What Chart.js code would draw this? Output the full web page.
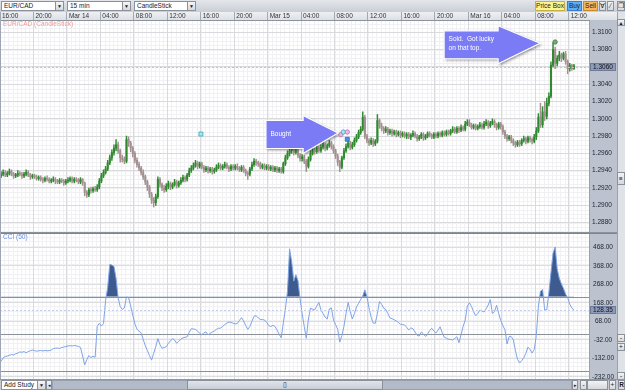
<!DOCTYPE html>
<html><head><meta charset="utf-8"><title>EUR/CAD 15 min</title>
<script src="https://cdn.jsdelivr.net/npm/chart.js@4.4.1/dist/chart.umd.min.js"></script>
<style>
*{box-sizing:border-box}
html,body{margin:0;padding:0;width:625px;height:390px;overflow:hidden;background:#c8cdd5;font-family:"Liberation Sans",Arial,sans-serif;font-size:6.5px;color:#1a1a1a}
.a{position:absolute}
.dd{position:absolute;top:1px;height:10px;background:#fff;border:1px solid #8b919b;line-height:8px;padding-left:2px;white-space:nowrap}
.dd i{position:absolute;right:0;top:0;width:8px;height:8px;border-left:1px solid #8b919b;background:linear-gradient(#f6f6f6,#d6d8dc);font-style:normal;font-size:5px;line-height:8px;text-align:center}
.btn{position:absolute;height:10px;border:1px solid #8b919b;line-height:8px;text-align:center;white-space:nowrap;background:linear-gradient(#f2f3f5,#d5d8dd)}
</style></head><body>
<div class="a" style="left:0;top:0;width:625px;height:12px;background:linear-gradient(#e3e6ea,#c9ced6)"></div>
<div class="dd" style="left:1px;width:63px">EUR/CAD<i>▼</i></div>
<div class="dd" style="left:67px;width:64px">15 min<i>▼</i></div>
<div class="dd" style="left:134px;width:62px">CandleStick<i>▼</i></div>
<div class="btn" style="left:535px;top:1px;width:30px;background:#fff38a;border-color:#c2b04a">Price Box</div>
<div class="btn" style="left:567px;top:1px;width:15px;background:#5eaef2;border-color:#3a7ec4">Buy</div>
<div class="btn" style="left:583px;top:1px;width:15px;background:#f8b659;border-color:#c68a34">Sell</div>
<div class="btn" style="left:599px;top:1px;width:7px">∀</div>
<div class="btn" style="left:607px;top:1px;width:7px">⁄</div>
<div class="btn" style="left:617px;top:1px;width:8px">❐</div>
<div class="a" style="left:0;top:12px;width:617px;height:8px;background:linear-gradient(#eef0f3,#dcdfe4)"></div>
<div class="a" style="left:589px;top:20px;width:28px;height:359px;background:#bcc3cf;border-left:1px solid #9aa2b0"></div>
<canvas id="price" class="a" style="left:0;top:12px" width="617" height="221"></canvas>
<canvas id="cci" class="a" style="left:0;top:233px" width="617" height="146"></canvas>
<div class="a" style="left:0;top:20px;width:1px;height:359px;background:#9ea6b6"></div>
<div class="a" style="left:617px;top:12px;width:8px;height:367px;background:#dfe2e7;border-left:1px solid #9aa2ae"></div>
<div class="btn" style="left:617px;top:19px;width:8px;height:7px;line-height:6px;font-size:5px">▲</div>
<div class="btn" style="left:617px;top:172px;width:8px;height:13px;line-height:11px">≡</div>
<div class="btn" style="left:617px;top:334px;width:8px;height:8px;line-height:6px">-</div>
<div class="btn" style="left:617px;top:343px;width:8px;height:8px;line-height:6px">+</div>
<div class="btn" style="left:617px;top:372px;width:8px;height:8px;line-height:6px">-</div>
<div class="a" style="left:0;top:379px;width:625px;height:11px;background:#c6cbd3;border-top:1px solid #8f96a2"></div>
<div class="dd" style="left:1px;top:380px;width:45px;height:10px">Add Study<i>▼</i></div>
<div class="btn" style="left:46px;top:380px;width:6px;font-size:5px">◂</div>
<div class="a" style="left:52px;top:380px;width:520px;height:10px;background:#b3bbc8;border:1px solid #97a0ae"></div>
<div class="btn" style="left:187px;top:380px;width:196px;background:linear-gradient(#e1e4e9,#c9ced6)">▯</div>
<div class="btn" style="left:572px;top:380px;width:6px;font-size:5px">▸</div>
<div class="btn" style="left:580px;top:380px;width:7px">-</div>
<div class="btn" style="left:587px;top:380px;width:21px"></div>
<div class="btn" style="left:609px;top:380px;width:7px">+</div>
<div class="btn" style="left:618px;top:380px;width:7px;font-weight:bold">R</div>
<script>
// ---- data (15-minute EUR/CAD candles, Mar 13 16:00 onward) ----
const timeLabels = ["16:00","20:00","Mar 14","04:00","08:00","12:00","16:00","20:00","Mar 15","04:00","08:00","12:00","16:00","20:00","Mar 16","04:00","08:00","12:00"];
const priceTicks = [1.2880,1.2900,1.2920,1.2940,1.2960,1.2980,1.3000,1.3020,1.3040,1.3060,1.3080,1.3100];
const cciTicks = [468,368,268,168,68,-32,-132,-232];
const cciLevels = [200,0,-200];
const lastPrice = 1.3060;
const lastCci = 128.35;

const openP = [
1.2934,1.2936,1.2938,1.2935,1.2937,1.2939,1.2936,1.2934,1.2935,1.2937,1.2936,1.2934,1.2936,1.2938,1.2935,1.2933,
1.2934,1.2933,1.2931,1.2932,1.2930,1.2929,1.2931,1.2930,1.2928,1.2929,1.2930,1.2928,1.2927,1.2929,1.2928,1.2926,
1.2928,1.2929,1.2931,1.2928,1.2930,1.2929,1.2927,1.2930,1.2926,1.2915,1.2912,1.2918,1.2917,1.2919,1.2918,1.2921,
1.2928,1.2934,1.2938,1.2942,1.2949,1.2955,1.2961,1.2966,1.2970,1.2963,1.2955,1.2953,1.2951,1.2976,1.2972,1.2966,
1.2960,1.2952,1.2947,1.2943,1.2938,1.2933,1.2927,1.2921,1.2913,1.2906,1.2903,1.2910,1.2930,1.2924,1.2920,1.2918,
1.2922,1.2925,1.2921,1.2924,1.2927,1.2923,1.2926,1.2929,1.2932,1.2930,1.2935,1.2940,1.2943,1.2946,1.2949,1.2945,
1.2948,1.2944,1.2941,1.2943,1.2940,1.2942,1.2939,1.2941,1.2944,1.2946,1.2943,1.2945,1.2947,1.2944,1.2942,1.2945,
1.2943,1.2945,1.2943,1.2941,1.2944,1.2940,1.2937,1.2936,1.2942,1.2947,1.2951,1.2949,1.2948,1.2944,1.2946,1.2943,
1.2945,1.2942,1.2944,1.2941,1.2943,1.2940,1.2942,1.2939,1.2948,1.2955,1.2960,1.2963,1.2966,1.2961,1.2964,1.2958,
1.2954,1.2956,1.2951,1.2945,1.2953,1.2960,1.2964,1.2962,1.2966,1.2963,1.2967,1.2970,1.2966,1.2969,1.2972,1.2968,
1.2963,1.2957,1.2950,1.2944,1.2955,1.2963,1.2968,1.2972,1.2967,1.2970,1.2975,1.2979,1.2984,1.2988,1.3002,1.2980,
1.2975,1.2972,1.2975,1.2971,1.2974,1.2998,1.2992,1.2989,1.2986,1.2988,1.2984,1.2986,1.2983,1.2985,1.2982,1.2984,
1.2981,1.2983,1.2980,1.2982,1.2979,1.2981,1.2983,1.2980,1.2977,1.2979,1.2982,1.2978,1.2980,1.2983,1.2981,1.2979,
1.2982,1.2980,1.2983,1.2981,1.2984,1.2982,1.2985,1.2983,1.2986,1.2988,1.2985,1.2989,1.2987,1.2990,1.2988,1.2994,
1.2996,1.2993,1.2990,1.2992,1.2989,1.2991,1.2993,1.2990,1.2994,1.2996,1.2992,1.2995,1.2997,1.2993,1.2990,1.2994,
1.2991,1.2985,1.2980,1.2977,1.2979,1.2975,1.2972,1.2970,1.2973,1.2971,1.2975,1.2977,1.2974,1.2978,1.2976,1.2974,
1.2979,1.2986,1.3002,1.2993,1.3008,1.3003,1.3018,1.3026,1.3062,1.3080,1.3064,1.3070,1.3074,1.3070,1.3075,1.3066,
1.3058,1.3062,1.3058];
const highP = [
1.2939,1.2941,1.2940,1.2939,1.2942,1.2941,1.2938,1.2937,1.2940,1.2939,1.2938,1.2938,1.2941,1.2940,1.2937,1.2936,
1.2936,1.2935,1.2934,1.2934,1.2932,1.2933,1.2934,1.2932,1.2931,1.2933,1.2932,1.2930,1.2931,1.2931,1.2930,1.2930,
1.2932,1.2933,1.2933,1.2932,1.2932,1.2931,1.2932,1.2931,1.2927,1.2917,1.2920,1.2921,1.2921,1.2922,1.2924,1.2931,
1.2937,1.2941,1.2945,1.2952,1.2958,1.2964,1.2970,1.2976,1.2973,1.2965,1.2958,1.2956,1.2980,1.2979,1.2974,1.2968,
1.2962,1.2955,1.2950,1.2945,1.2941,1.2935,1.2929,1.2923,1.2915,1.2909,1.2913,1.2933,1.2932,1.2926,1.2923,1.2925,
1.2928,1.2927,1.2926,1.2930,1.2929,1.2928,1.2932,1.2935,1.2934,1.2937,1.2943,1.2946,1.2949,1.2952,1.2951,1.2950,
1.2950,1.2946,1.2945,1.2945,1.2944,1.2944,1.2943,1.2947,1.2949,1.2948,1.2947,1.2950,1.2949,1.2946,1.2947,1.2947,
1.2947,1.2948,1.2945,1.2946,1.2946,1.2942,1.2939,1.2944,1.2950,1.2954,1.2953,1.2951,1.2950,1.2948,1.2948,1.2947,
1.2947,1.2946,1.2946,1.2945,1.2945,1.2944,1.2944,1.2950,1.2958,1.2963,1.2966,1.2970,1.2968,1.2967,1.2966,1.2960,
1.2959,1.2958,1.2953,1.2956,1.2963,1.2967,1.2966,1.2969,1.2968,1.2970,1.2973,1.2972,1.2971,1.2975,1.2974,1.2970,
1.2965,1.2959,1.2952,1.2957,1.2966,1.2971,1.2976,1.2974,1.2973,1.2978,1.2982,1.2987,1.2991,1.3008,1.3004,1.2982,
1.2977,1.2978,1.2977,1.2976,1.3005,1.3000,1.2995,1.2991,1.2991,1.2990,1.2988,1.2988,1.2987,1.2987,1.2986,1.2986,
1.2985,1.2985,1.2984,1.2984,1.2983,1.2986,1.2985,1.2982,1.2981,1.2984,1.2984,1.2982,1.2985,1.2985,1.2983,1.2984,
1.2984,1.2985,1.2985,1.2986,1.2986,1.2987,1.2987,1.2988,1.2991,1.2990,1.2991,1.2991,1.2993,1.2992,1.2997,1.2999,
1.2999,1.2995,1.2994,1.2994,1.2993,1.2996,1.2995,1.2997,1.2999,1.2998,1.2997,1.3000,1.2999,1.2995,1.2996,1.2996,
1.2993,1.2987,1.2982,1.2981,1.2981,1.2977,1.2974,1.2975,1.2975,1.2977,1.2980,1.2979,1.2980,1.2980,1.2978,1.2982,
1.2990,1.3006,1.3018,1.3014,1.3020,1.3024,1.3030,1.3066,1.3088,1.3083,1.3073,1.3078,1.3076,1.3077,1.3078,1.3068,
1.3064,1.3063,1.3063];
const lowP = [
1.2932,1.2934,1.2933,1.2933,1.2935,1.2934,1.2931,1.2932,1.2933,1.2934,1.2931,1.2932,1.2934,1.2933,1.2930,1.2931,
1.2931,1.2929,1.2929,1.2928,1.2926,1.2927,1.2928,1.2926,1.2926,1.2927,1.2925,1.2925,1.2925,1.2926,1.2923,1.2924,
1.2926,1.2927,1.2926,1.2926,1.2927,1.2925,1.2925,1.2923,1.2911,1.2909,1.2910,1.2914,1.2915,1.2916,1.2916,1.2919,
1.2926,1.2932,1.2936,1.2940,1.2947,1.2952,1.2958,1.2963,1.2960,1.2950,1.2950,1.2948,1.2949,1.2968,1.2962,1.2956,
1.2949,1.2944,1.2940,1.2935,1.2930,1.2924,1.2917,1.2909,1.2902,1.2898,1.2900,1.2908,1.2921,1.2917,1.2915,1.2916,
1.2919,1.2918,1.2919,1.2922,1.2920,1.2921,1.2924,1.2927,1.2927,1.2928,1.2933,1.2938,1.2941,1.2944,1.2942,1.2943,
1.2942,1.2938,1.2939,1.2937,1.2938,1.2936,1.2937,1.2939,1.2942,1.2941,1.2941,1.2943,1.2942,1.2939,1.2940,1.2941,
1.2941,1.2941,1.2939,1.2939,1.2938,1.2934,1.2930,1.2934,1.2940,1.2945,1.2946,1.2945,1.2942,1.2942,1.2941,1.2941,
1.2940,1.2940,1.2939,1.2939,1.2938,1.2938,1.2937,1.2937,1.2946,1.2953,1.2957,1.2960,1.2958,1.2959,1.2955,1.2951,
1.2951,1.2948,1.2939,1.2943,1.2951,1.2958,1.2959,1.2960,1.2961,1.2961,1.2965,1.2963,1.2964,1.2967,1.2965,1.2960,
1.2954,1.2946,1.2939,1.2942,1.2953,1.2961,1.2966,1.2964,1.2965,1.2968,1.2973,1.2977,1.2982,1.2986,1.2977,1.2972,
1.2969,1.2970,1.2968,1.2969,1.2972,1.2989,1.2986,1.2983,1.2984,1.2981,1.2982,1.2980,1.2981,1.2979,1.2980,1.2978,
1.2979,1.2978,1.2977,1.2977,1.2976,1.2979,1.2978,1.2974,1.2975,1.2977,1.2975,1.2976,1.2978,1.2979,1.2977,1.2977,
1.2978,1.2978,1.2979,1.2979,1.2980,1.2980,1.2981,1.2981,1.2984,1.2983,1.2983,1.2984,1.2985,1.2986,1.2986,1.2992,
1.2991,1.2988,1.2988,1.2987,1.2987,1.2989,1.2988,1.2988,1.2992,1.2989,1.2990,1.2993,1.2990,1.2987,1.2988,1.2988,
1.2982,1.2977,1.2974,1.2975,1.2972,1.2969,1.2967,1.2968,1.2968,1.2969,1.2973,1.2971,1.2972,1.2973,1.2971,1.2972,
1.2976,1.2984,1.2990,1.2990,1.2998,1.3000,1.3015,1.3024,1.3060,1.3058,1.3061,1.3067,1.3066,1.3068,1.3063,1.3052,
1.3055,1.3056,1.3057];
const closeP = [
1.2936,1.2938,1.2935,1.2937,1.2939,1.2936,1.2934,1.2935,1.2937,1.2936,1.2934,1.2936,1.2938,1.2935,1.2933,1.2934,
1.2933,1.2931,1.2932,1.2930,1.2929,1.2931,1.2930,1.2928,1.2929,1.2930,1.2928,1.2927,1.2929,1.2928,1.2926,1.2928,
1.2929,1.2931,1.2928,1.2930,1.2929,1.2927,1.2930,1.2926,1.2915,1.2912,1.2918,1.2917,1.2919,1.2918,1.2921,1.2928,
1.2934,1.2938,1.2942,1.2949,1.2955,1.2961,1.2966,1.2970,1.2963,1.2955,1.2953,1.2951,1.2976,1.2972,1.2966,1.2960,
1.2952,1.2947,1.2943,1.2938,1.2933,1.2927,1.2921,1.2913,1.2906,1.2903,1.2910,1.2930,1.2924,1.2920,1.2918,1.2922,
1.2925,1.2921,1.2924,1.2927,1.2923,1.2926,1.2929,1.2932,1.2930,1.2935,1.2940,1.2943,1.2946,1.2949,1.2945,1.2948,
1.2944,1.2941,1.2943,1.2940,1.2942,1.2939,1.2941,1.2944,1.2946,1.2943,1.2945,1.2947,1.2944,1.2942,1.2945,1.2943,
1.2945,1.2943,1.2941,1.2944,1.2940,1.2937,1.2936,1.2942,1.2947,1.2951,1.2949,1.2948,1.2944,1.2946,1.2943,1.2945,
1.2942,1.2944,1.2941,1.2943,1.2940,1.2942,1.2939,1.2948,1.2955,1.2960,1.2963,1.2966,1.2961,1.2964,1.2958,1.2954,
1.2956,1.2951,1.2945,1.2953,1.2960,1.2964,1.2962,1.2966,1.2963,1.2967,1.2970,1.2966,1.2969,1.2972,1.2968,1.2963,
1.2957,1.2950,1.2944,1.2955,1.2963,1.2968,1.2972,1.2967,1.2970,1.2975,1.2979,1.2984,1.2988,1.3002,1.2980,1.2975,
1.2972,1.2975,1.2971,1.2974,1.2998,1.2992,1.2989,1.2986,1.2988,1.2984,1.2986,1.2983,1.2985,1.2982,1.2984,1.2981,
1.2983,1.2980,1.2982,1.2979,1.2981,1.2983,1.2980,1.2977,1.2979,1.2982,1.2978,1.2980,1.2983,1.2981,1.2979,1.2982,
1.2980,1.2983,1.2981,1.2984,1.2982,1.2985,1.2983,1.2986,1.2988,1.2985,1.2989,1.2987,1.2990,1.2988,1.2994,1.2996,
1.2993,1.2990,1.2992,1.2989,1.2991,1.2993,1.2990,1.2994,1.2996,1.2992,1.2995,1.2997,1.2993,1.2990,1.2994,1.2991,
1.2985,1.2980,1.2977,1.2979,1.2975,1.2972,1.2970,1.2973,1.2971,1.2975,1.2977,1.2974,1.2978,1.2976,1.2974,1.2979,
1.2986,1.3002,1.2993,1.3008,1.3003,1.3018,1.3026,1.3062,1.3080,1.3064,1.3070,1.3074,1.3070,1.3075,1.3066,1.3058,
1.3062,1.3058,1.3061];
const cciValues = [
-150,-130,-122,-120,-116,-112,-114,-108,-104,-98,-100,-96,-103,-96,-92,-88,
-91,-94,-92,-90,-93,-90,-92,-91,-88,-80,-78,-77,-79,-74,-72,-68,
-66,-64,-66,-63,-65,-68,-73,-120,-168,-140,-118,-128,-122,-126,40,57,
42,55,180,250,375,372,365,300,195,147,132,140,200,195,150,100,
55,25,15,5,-30,-65,-90,-118,-142,-105,-70,-26,-58,-78,-74,-70,
-52,-38,-26,-34,-51,-40,-28,-22,-19,-16,8,28,26,24,14,4,
-6,6,10,-5,2,10,15,24,30,31,40,50,58,63,62,57,
54,56,72,88,70,45,24,40,68,95,98,86,78,77,75,62,
45,39,46,40,21,-2,-22,60,135,230,460,390,285,320,288,190,
110,40,-24,80,138,134,130,150,170,130,110,90,80,135,140,75,
50,25,-45,-10,40,110,170,120,80,110,145,165,185,205,238,200,
140,90,58,57,110,175,160,138,132,110,86,82,76,70,62,52,
50,48,35,21,32,28,10,-8,-12,10,0,-14,-2,18,30,15,
4,20,38,5,-18,-24,-29,-31,-33,-25,-16,-48,-5,40,75,150,
168,148,120,98,110,128,124,118,135,156,185,110,120,154,110,72,
45,22,-55,-15,-15,-32,-90,-138,-158,-145,-130,-105,-72,-85,-104,-85,
-10,150,230,240,129,130,220,330,436,470,350,300,270,245,215,195,
160,140,128.35];

// annotations (anchored in bar index / price units)
const notes = [
  {lines:["Bought"], tipBar:161.7, tipPrice:1.29836, tailBar:127.2, headLen:35},
  {lines:["Sold.  Got lucky","on that top."], tipBar:258.3, tipPrice:1.30873, tailBar:212.4, headLen:42}
];
const markers = [
  {bar:96.1, price:1.29824, shape:"square", fill:"#a8e6f2", stroke:"#3aa6b8"},
  {bar:163.0, price:1.29816, shape:"circle", fill:"#f3b8e8", stroke:"#c070b0"},
  {bar:164.2, price:1.29847, shape:"circle", fill:"#a8e6f2", stroke:"#3aa6b8"},
  {bar:166.1, price:1.29847, shape:"circle", fill:"#f3b8e8", stroke:"#c070b0"},
  {bar:166.1, price:1.29763, shape:"square", fill:"#4a90e0", stroke:"#2a6ab0"},
  {bar:265.5, price:1.30888, shape:"circle", fill:"#78a878", stroke:"#4a804a"}
];

// ---- view settings ----
const FONT = '"Liberation Sans", Arial, sans-serif';
const barsPerTick = 16;
const xMax = 281.7;
const priceMin = 1.286913, priceMax = 1.311422;
const cciMin = -244.4, cciMax = 545.4;
const upCol = "#2f8a2f", dnCol = "#a39090";

const barX = closeP.map((_, i) => i + 0.5);
const isUp = closeP.map((c, i) => c >= openP[i]);
const candleCols = isUp.map(u => u ? upCol : dnCol);

function minorGrid(ctx, a, x, y, xStep, yStep, color) {
  ctx.save(); ctx.strokeStyle = color; ctx.lineWidth = 1; ctx.beginPath();
  for (let k = 0; k * xStep <= x.max; k++) { const px = Math.round(x.getPixelForValue(k * xStep)) + 0.5; ctx.moveTo(px, a.top); ctx.lineTo(px, a.bottom); }
  const k0 = Math.ceil(y.min / yStep);
  for (let k = k0; k * yStep <= y.max; k++) { const py = Math.round(y.getPixelForValue(k * yStep)) + 0.5; ctx.moveTo(a.left, py); ctx.lineTo(a.right, py); }
  ctx.stroke(); ctx.restore();
}
function dashedLine(ctx, a, py, color) {
  ctx.save(); ctx.setLineDash([2, 2]); ctx.strokeStyle = color; ctx.lineWidth = 1;
  ctx.beginPath(); ctx.moveTo(a.left, Math.round(py) + 0.5); ctx.lineTo(a.right, Math.round(py) + 0.5); ctx.stroke(); ctx.restore();
}
function valueBox(ctx, yScale, py, text) {
  ctx.save();
  const l = yScale.left + 1, w = yScale.right - yScale.left - 2;
  ctx.fillStyle = "#8e9aba"; ctx.fillRect(l, Math.round(py) - 4, w, 8);
  ctx.strokeStyle = "#6d7a9a"; ctx.lineWidth = 1; ctx.strokeRect(l + 0.5, Math.round(py) - 3.5, w - 1, 7);
  ctx.fillStyle = "#111"; ctx.font = "6.5px " + FONT; ctx.textAlign = "center"; ctx.textBaseline = "middle";
  ctx.fillText(text, l + w / 2, Math.round(py) + 0.5);
  ctx.restore();
}
function arrowPath(ctx, tipX, tipY, tailX, bodyH, headH, headL) {
  const bx = tipX - headL, cy = tipY + 1.5;
  ctx.beginPath();
  ctx.moveTo(tailX, cy - bodyH); ctx.lineTo(bx, cy - bodyH); ctx.lineTo(bx, cy - headH);
  ctx.lineTo(tipX, tipY); ctx.lineTo(bx, cy + headH); ctx.lineTo(bx, cy + bodyH);
  ctx.lineTo(tailX, cy + bodyH); ctx.closePath();
}

const pricePane = {
  id: "pricePane",
  beforeDraw(c) {
    const {ctx, chartArea: a, scales: {x, y}} = c;
    ctx.save(); ctx.fillStyle = "#fff"; ctx.fillRect(a.left, a.top, a.right - a.left, a.bottom - a.top); ctx.restore();
    minorGrid(ctx, a, x, y, 2, 0.0005, "#f1f1f3");
  },
  afterDatasetsDraw(c) {
    const {ctx, chartArea: a, scales: {x, y}} = c;
    dashedLine(ctx, a, y.getPixelForValue(lastPrice), "#b8c2ee");
    markers.forEach(m => {
      const px = x.getPixelForValue(m.bar), py = y.getPixelForValue(m.price);
      ctx.save(); ctx.fillStyle = m.fill; ctx.strokeStyle = m.stroke; ctx.lineWidth = 0.8;
      ctx.beginPath();
      if (m.shape === "circle") ctx.arc(px, py, 2.2, 0, Math.PI * 2); else ctx.rect(px - 2, py - 2, 4, 4);
      ctx.fill(); ctx.stroke(); ctx.restore();
    });
    notes.forEach(n => {
      const tx = x.getPixelForValue(n.tipBar), ty = y.getPixelForValue(n.tipPrice), lx = x.getPixelForValue(n.tailBar);
      ctx.save();
      ctx.shadowColor = "rgba(0,0,0,0.45)"; ctx.shadowBlur = 3; ctx.shadowOffsetX = 1.5; ctx.shadowOffsetY = 1.5;
      arrowPath(ctx, tx, ty, lx, 14, 19, n.headLen);
      ctx.fillStyle = "#7b7cf5"; ctx.fill();
      ctx.shadowColor = "transparent";
      ctx.strokeStyle = "#ffffff"; ctx.lineWidth = 1.2; ctx.stroke();
      ctx.fillStyle = "#fff"; ctx.font = "6.5px " + FONT; ctx.textBaseline = "middle"; ctx.textAlign = "left";
      const cy = ty + 1.5, lh = 8.3;
      n.lines.forEach((t, k) => ctx.fillText(t, lx + 4.5, cy + (k - (n.lines.length - 1) / 2) * lh - (n.lines.length > 1 ? 1 : 0)));
      ctx.restore();
    });
  },
  afterDraw(c) {
    const {ctx, chartArea: a, scales: {y}} = c;
    valueBox(ctx, y, y.getPixelForValue(lastPrice), lastPrice.toFixed(4));
    ctx.save(); ctx.fillStyle = "#f29a9a"; ctx.font = "6.5px " + FONT; ctx.textBaseline = "middle";
    ctx.fillText("EUR/CAD (CandleStick)", a.left + 3, a.top + 4.5);
    ctx.strokeStyle = "#8c929c"; ctx.lineWidth = 1; ctx.beginPath();
    ctx.moveTo(0, a.bottom + 0.5); ctx.lineTo(c.width, a.bottom + 0.5); ctx.stroke();
    ctx.restore();
  }
};

new Chart(document.getElementById("price"), {
  type: "bar",
  data: { datasets: [
    { data: barX.map((v, i) => ({x: v, y: [lowP[i], highP[i]]})), backgroundColor: candleCols, barThickness: 0.8, grouped: false, order: 2, borderWidth: 0 },
    { data: barX.map((v, i) => ({x: v, y: [openP[i], closeP[i]]})), backgroundColor: candleCols, barThickness: 1.4, grouped: false, order: 1, borderWidth: 0, minBarLength: 1 }
  ]},
  options: {
    responsive: false, animation: false, devicePixelRatio: 1,
    layout: { padding: {left: 0, right: 0, top: 0, bottom: 1}, autoPadding: false },
    plugins: { legend: {display: false}, tooltip: {enabled: false} },
    scales: {
      x: { type: "linear", position: "top", min: 0, max: xMax, offset: false,
        afterFit(s) { s.height = 8; s.paddingLeft = 0; s.paddingRight = 0; },
        afterBuildTicks(s) { s.ticks = timeLabels.map((_, k) => ({value: k * barsPerTick})); },
        ticks: { autoSkip: false, maxRotation: 0, minRotation: 0, align: "start", padding: -8, labelOffset: 2,
          font: {size: 6.5, family: FONT}, color: "#333", callback: (v, i) => timeLabels[i] },
        grid: { color: "#d9dadd", tickLength: 8, tickColor: "#a3a9b3", drawTicks: true, offset: false },
        border: { display: true, color: "#8d939c" } },
      y: { type: "linear", position: "right", min: priceMin, max: priceMax,
        afterFit(s) { s.width = 28; s.paddingTop = 0; s.paddingBottom = 0; },
        afterBuildTicks(s) { s.ticks = priceTicks.map(v => ({value: v})); },
        ticks: { autoSkip: false, crossAlign: "center", padding: 3, font: {size: 6.5, family: FONT}, color: "#1c2230", callback: v => v.toFixed(4) },
        grid: { color: "#d9dadd", drawTicks: false }, border: { display: false } }
    }
  },
  plugins: [pricePane]
});

const cciPane = {
  id: "cciPane",
  beforeDraw(c) {
    const {ctx, chartArea: a, scales: {x, y}} = c;
    ctx.save(); ctx.fillStyle = "#fff"; ctx.fillRect(a.left, a.top, a.right - a.left, a.bottom - a.top); ctx.restore();
    minorGrid(ctx, a, x, y, 2, 25, "#f1f1f3");
  },
  beforeDatasetsDraw(c) {
    const {ctx, chartArea: a, scales: {y}} = c;
    ctx.save(); ctx.strokeStyle = "#8b8f96"; ctx.lineWidth = 1; ctx.beginPath();
    cciLevels.forEach(v => { const py = Math.round(y.getPixelForValue(v)) + 0.5; ctx.moveTo(a.left, py); ctx.lineTo(a.right, py); });
    ctx.stroke(); ctx.restore();
  },
  afterDraw(c) {
    const {ctx, chartArea: a, scales: {y}} = c;
    dashedLine(ctx, a, y.getPixelForValue(lastCci), "#c4ccee");
    valueBox(ctx, y, y.getPixelForValue(lastCci), lastCci.toFixed(2));
    ctx.save(); ctx.fillStyle = "#6f8fd6"; ctx.font = "6.5px " + FONT; ctx.textBaseline = "middle";
    ctx.fillText("CCI (50)", a.left + 3, a.top + 4.5);
    ctx.strokeStyle = "#7f858f"; ctx.lineWidth = 1; ctx.beginPath(); ctx.moveTo(0, 0.5); ctx.lineTo(c.width, 0.5); ctx.stroke();
    ctx.restore();
  }
};

new Chart(document.getElementById("cci"), {
  type: "line",
  data: { datasets: [{
    data: cciValues.map((v, i) => ({x: barX[i], y: v})),
    borderColor: "#7ea4e6", borderWidth: 1, pointRadius: 0, tension: 0,
    fill: { target: {value: cciLevels[0]}, above: "#3d5b8f", below: "rgba(0,0,0,0)" }
  }]},
  options: {
    responsive: false, animation: false, devicePixelRatio: 1,
    layout: { padding: 0, autoPadding: false },
    plugins: { legend: {display: false}, tooltip: {enabled: false} },
    scales: {
      x: { type: "linear", min: 0, max: xMax, offset: false,
        afterFit(s) { s.height = 0; s.paddingLeft = 0; s.paddingRight = 0; },
        afterBuildTicks(s) { s.ticks = timeLabels.map((_, k) => ({value: k * barsPerTick})); },
        ticks: { display: false }, grid: { color: "#d9dadd", drawTicks: false }, border: { display: false } },
      y: { type: "linear", position: "right", min: cciMin, max: cciMax,
        afterFit(s) { s.width = 28; s.paddingTop = 0; s.paddingBottom = 0; },
        afterBuildTicks(s) { s.ticks = cciTicks.map(v => ({value: v})); },
        ticks: { autoSkip: false, crossAlign: "center", padding: 3, font: {size: 6.5, family: FONT}, color: "#1c2230", callback: v => v.toFixed(2) },
        grid: { color: "#dcdde0", drawTicks: false }, border: { display: false } }
    }
  },
  plugins: [cciPane]
});
</script>
</body></html>
